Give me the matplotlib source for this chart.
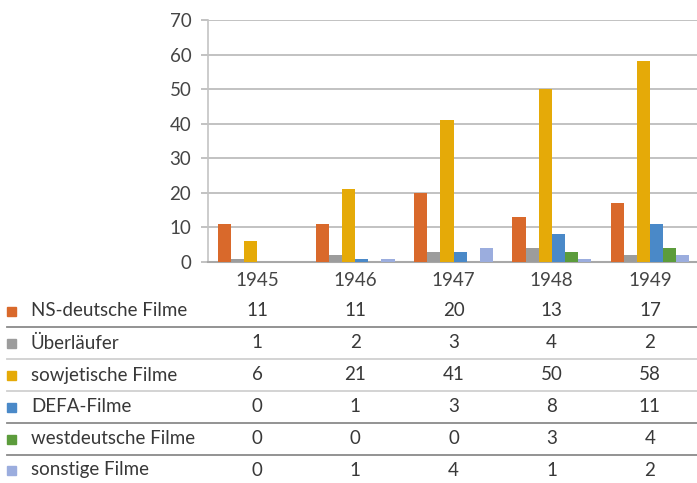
import numpy as np
import matplotlib.pyplot as plt
from matplotlib.transforms import blended_transform_factory
from matplotlib.lines import Line2D

plt.rcParams['font.family'] = ['Lato', 'DejaVu Sans']

years = ["1945", "1946", "1947", "1948", "1949"]
series = ["NS-deutsche Filme", "Überläufer", "sowjetische Filme",
          "DEFA-Filme", "westdeutsche Filme", "sonstige Filme"]
ns_deutsch = [11, 11, 20, 13, 17]
ueberlaeufer = [1, 2, 3, 4, 2]
sowjetisch = [6, 21, 41, 50, 58]
defa = [0, 1, 3, 8, 11]
westdeutsch = [0, 0, 0, 3, 4]
sonstige = [0, 1, 4, 1, 2]
values = [ns_deutsch, ueberlaeufer, sowjetisch, defa, westdeutsch, sonstige]
colors = ["#d9692b", "#9c9c9c", "#e5aa08", "#4a89c8", "#5c9c3c", "#9badde"]

W, H = 697, 483
fig = plt.figure(figsize=(W / 100, H / 100), dpi=100)
ax = fig.add_axes([208 / W, 1 - 262 / H, 491 / W, 242 / H])

x = np.arange(len(years))
bw = 1 / 7.5
for i, (vals, c) in enumerate(zip(values, colors)):
    ax.bar(x + (i - 2.5) * bw, vals, width=bw, color=c, zorder=3)

ax.set_xlim(-0.5, len(years) - 0.5)
ax.set_ylim(0, 70)
ax.set_yticks(range(0, 71, 10))
ax.set_xticks(x)
ax.set_xticklabels(years)
ax.grid(axis='y', color='#bdbdbd', lw=1.3, zorder=0)
for s in ['top', 'right']:
    ax.spines[s].set_visible(False)
ax.spines['left'].set_color('#c4c4c4')
ax.spines['left'].set_linewidth(1.2)
ax.spines['bottom'].set_color('#a8a8a8')
ax.spines['bottom'].set_linewidth(1.5)
ax.tick_params(axis='y', direction='out', length=5, color='#bdbdbd',
               width=1.3, labelsize=13.5, labelcolor='#454545', pad=7)
ax.tick_params(axis='x', length=0, labelsize=13.5, labelcolor='#454545', pad=7)

# data table under the chart
tr = blended_transform_factory(ax.transData, fig.transFigure)
row_y = [311, 343, 375, 407, 439, 470]
for name, vals, c, yp in zip(series, values, colors, row_y):
    yf = 1 - yp / H
    fig.patches.append(plt.Rectangle((7 / W, yf - 4.5 / H), 9 / W, 9 / H,
                                     color=c, transform=fig.transFigure))
    fig.text(31 / W, yf, name, fontsize=13.5, color='#383838', va='center')
    for xi, v in zip(x, vals):
        ax.text(xi, yf, str(v), transform=tr, fontsize=13.5, color='#383838',
                ha='center', va='center', clip_on=False)

line_y = [327, 359, 391, 423, 455]
line_c = ['#8a8a8a', '#d0d0d0', '#d0d0d0', '#8a8a8a', '#8a8a8a']
for yp, c in zip(line_y, line_c):
    yf = 1 - yp / H
    fig.lines.append(Line2D([7 / W, 1], [yf, yf], color=c, lw=1.3,
                            transform=fig.transFigure))

fig.savefig("out.png", dpi=100)
